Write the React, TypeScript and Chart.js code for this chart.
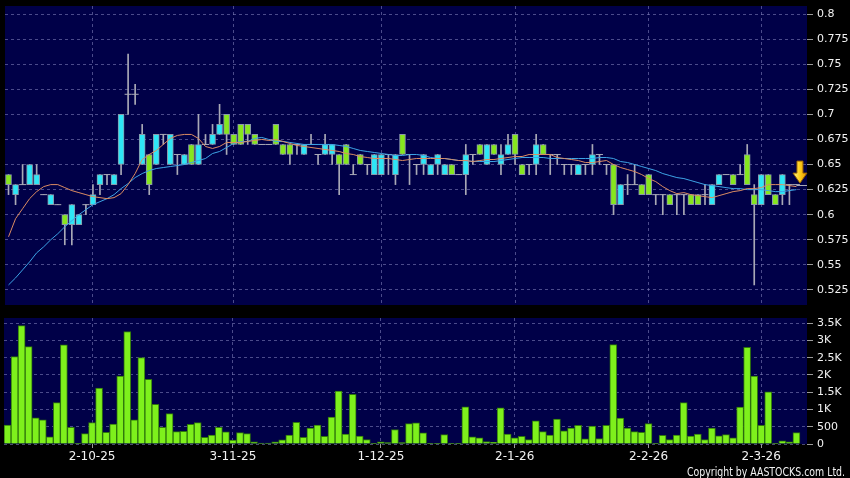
import React, { useEffect, useRef } from "react";
import { Chart, registerables } from "chart.js";

Chart.register(...registerables);

// ---------------- data ----------------
const openP = [
  0.64, 0.62, 0.63, 0.63, 0.63, 0.62, 0.61, 0.61, 0.60, 0.59,
  0.59, 0.61, 0.61, 0.63, 0.64, 0.63, 0.65, 0.72, 0.72, 0.65,
  0.66, 0.65, 0.68, 0.65, 0.66, 0.65, 0.67, 0.65, 0.67, 0.67,
  0.68, 0.70, 0.68, 0.69, 0.69, 0.68, 0.67, 0.67, 0.69, 0.67,
  0.67, 0.67, 0.66, 0.67, 0.66, 0.66, 0.66, 0.66, 0.67, 0.64,
  0.66, 0.65, 0.64, 0.64, 0.66, 0.64, 0.68, 0.66, 0.65, 0.65,
  0.64, 0.65, 0.64, 0.65, 0.64, 0.64, 0.66, 0.67, 0.65, 0.67,
  0.65, 0.66, 0.68, 0.65, 0.65, 0.65, 0.67, 0.66, 0.66, 0.65,
  0.65, 0.64, 0.65, 0.65, 0.66, 0.65, 0.65, 0.61, 0.63, 0.63,
  0.63, 0.64, 0.62, 0.62, 0.62, 0.62, 0.62, 0.62, 0.62, 0.62,
  0.61, 0.63, 0.64, 0.64, 0.64, 0.66, 0.62, 0.61, 0.64, 0.62,
  0.62, 0.63, 0.63,
];
const highP = [
  0.64, 0.63, 0.65, 0.65, 0.65, 0.62, 0.62, 0.61, 0.60, 0.61,
  0.60, 0.61, 0.63, 0.64, 0.64, 0.64, 0.70, 0.76, 0.73, 0.69,
  0.66, 0.68, 0.68, 0.68, 0.66, 0.66, 0.67, 0.70, 0.68, 0.69,
  0.71, 0.70, 0.68, 0.69, 0.69, 0.68, 0.67, 0.67, 0.69, 0.67,
  0.67, 0.67, 0.67, 0.68, 0.66, 0.68, 0.67, 0.66, 0.67, 0.65,
  0.66, 0.65, 0.66, 0.66, 0.66, 0.66, 0.68, 0.66, 0.65, 0.66,
  0.65, 0.66, 0.65, 0.65, 0.64, 0.67, 0.66, 0.67, 0.67, 0.67,
  0.67, 0.68, 0.68, 0.65, 0.65, 0.68, 0.67, 0.66, 0.66, 0.65,
  0.65, 0.65, 0.65, 0.67, 0.66, 0.65, 0.65, 0.63, 0.64, 0.65,
  0.63, 0.64, 0.62, 0.62, 0.62, 0.62, 0.62, 0.62, 0.62, 0.63,
  0.63, 0.64, 0.64, 0.64, 0.65, 0.67, 0.63, 0.64, 0.64, 0.62,
  0.64, 0.63, 0.63,
];
const lowP = [
  0.62, 0.61, 0.63, 0.63, 0.63, 0.62, 0.61, 0.61, 0.57, 0.57,
  0.59, 0.60, 0.61, 0.62, 0.63, 0.63, 0.64, 0.70, 0.71, 0.65,
  0.62, 0.65, 0.67, 0.65, 0.64, 0.65, 0.65, 0.65, 0.67, 0.67,
  0.68, 0.66, 0.67, 0.67, 0.67, 0.67, 0.67, 0.67, 0.67, 0.66,
  0.65, 0.66, 0.66, 0.67, 0.65, 0.66, 0.65, 0.62, 0.65, 0.64,
  0.65, 0.64, 0.64, 0.64, 0.64, 0.63, 0.66, 0.63, 0.64, 0.64,
  0.64, 0.64, 0.64, 0.64, 0.64, 0.62, 0.65, 0.66, 0.65, 0.66,
  0.64, 0.66, 0.65, 0.64, 0.64, 0.64, 0.66, 0.64, 0.65, 0.64,
  0.64, 0.64, 0.64, 0.64, 0.65, 0.64, 0.60, 0.61, 0.62, 0.63,
  0.62, 0.62, 0.61, 0.60, 0.61, 0.60, 0.60, 0.61, 0.61, 0.61,
  0.61, 0.63, 0.64, 0.63, 0.64, 0.63, 0.53, 0.61, 0.62, 0.61,
  0.61, 0.61, 0.63,
];
const closeP = [
  0.63, 0.63, 0.63, 0.65, 0.64, 0.62, 0.62, 0.61, 0.59, 0.61,
  0.60, 0.61, 0.62, 0.64, 0.64, 0.64, 0.70, 0.72, 0.72, 0.68,
  0.63, 0.68, 0.68, 0.68, 0.66, 0.66, 0.65, 0.67, 0.67, 0.68,
  0.69, 0.68, 0.67, 0.67, 0.68, 0.67, 0.67, 0.67, 0.67, 0.66,
  0.66, 0.67, 0.67, 0.67, 0.66, 0.67, 0.67, 0.65, 0.65, 0.64,
  0.65, 0.65, 0.66, 0.66, 0.66, 0.66, 0.66, 0.66, 0.65, 0.66,
  0.65, 0.66, 0.65, 0.64, 0.64, 0.66, 0.66, 0.66, 0.67, 0.66,
  0.66, 0.67, 0.66, 0.64, 0.65, 0.67, 0.66, 0.66, 0.66, 0.65,
  0.65, 0.65, 0.65, 0.66, 0.66, 0.65, 0.61, 0.63, 0.63, 0.63,
  0.62, 0.62, 0.62, 0.62, 0.61, 0.62, 0.62, 0.61, 0.61, 0.62,
  0.63, 0.64, 0.64, 0.63, 0.64, 0.63, 0.61, 0.64, 0.62, 0.61,
  0.64, 0.63, 0.63,
];
const ma10 = [
  0.578, 0.596, 0.606, 0.616, 0.623, 0.628, 0.630, 0.630, 0.627, 0.624,
  0.622, 0.620, 0.618, 0.617, 0.616, 0.617, 0.621, 0.630, 0.641, 0.655,
  0.660, 0.664, 0.670, 0.676, 0.679, 0.680, 0.680, 0.676, 0.668, 0.666,
  0.668, 0.672, 0.672, 0.672, 0.673, 0.674, 0.675, 0.674, 0.675, 0.673,
  0.671, 0.669, 0.668, 0.667, 0.666, 0.665, 0.664, 0.663, 0.661, 0.660,
  0.658, 0.657, 0.656, 0.656, 0.656, 0.655, 0.654, 0.655, 0.656, 0.656,
  0.656, 0.656, 0.656, 0.655, 0.654, 0.654, 0.653, 0.654, 0.655, 0.655,
  0.656, 0.657, 0.658, 0.658, 0.660, 0.660, 0.660, 0.660, 0.657, 0.656,
  0.655, 0.654, 0.652, 0.652, 0.653, 0.654, 0.650, 0.647, 0.645, 0.643,
  0.640, 0.636, 0.633, 0.628, 0.624, 0.621, 0.622, 0.620, 0.619, 0.618,
  0.617, 0.619, 0.621, 0.623, 0.624, 0.626, 0.626, 0.627, 0.630, 0.630,
  0.630, 0.629, 0.628,
];
const ma20 = [
  0.530, 0.537, 0.545, 0.553, 0.562, 0.568, 0.575, 0.581, 0.588, 0.594,
  0.600, 0.605, 0.610, 0.613, 0.616, 0.620, 0.626, 0.631, 0.637, 0.641,
  0.644, 0.646, 0.647, 0.648, 0.649, 0.650, 0.652, 0.654, 0.656, 0.661,
  0.663, 0.667, 0.671, 0.673, 0.673, 0.676, 0.677, 0.675, 0.673, 0.673,
  0.672, 0.671, 0.670, 0.670, 0.670, 0.670, 0.670, 0.669, 0.668, 0.666,
  0.664, 0.663, 0.662, 0.661, 0.660, 0.659, 0.659, 0.660, 0.660, 0.659,
  0.657, 0.656, 0.656, 0.655, 0.654, 0.654, 0.653, 0.653, 0.653, 0.653,
  0.654, 0.655, 0.656, 0.657, 0.657, 0.657, 0.657, 0.656, 0.656, 0.656,
  0.656, 0.656, 0.656, 0.656, 0.657, 0.657, 0.656, 0.653, 0.652, 0.650,
  0.648, 0.646, 0.644, 0.641, 0.639, 0.637, 0.636, 0.634, 0.632, 0.630,
  0.629, 0.628, 0.627, 0.626, 0.626, 0.625, 0.625, 0.625, 0.624, 0.623,
  0.623, 0.624, 0.625,
];
const volume = [
  550, 2530, 3430, 2820, 760, 700, 210, 1200, 2870, 480,
  20, 300, 620, 1620, 340, 580, 1970, 3260, 700, 2500,
  1870, 1150, 480, 880, 360, 370, 570, 620, 190, 260,
  480, 350, 110, 330, 300, 60, 30, 30, 60, 120,
  260, 630, 190, 460, 550, 220, 780, 1530, 290, 1440,
  230, 130, 20, 60, 40, 420, 40, 590, 610, 320,
  20, 20, 270, 20, 20, 1080, 210, 180, 70, 50,
  1050, 290, 180, 220, 130, 670, 360, 260, 720, 380,
  460, 540, 150, 520, 160, 540, 2880, 750, 460, 360,
  340, 590, 20, 250, 130, 260, 1200, 230, 290, 130,
  460, 240, 270, 180, 1070, 2800, 1970, 540, 1510, 20,
  90, 60, 330,
];
const priceTickValues = [0.525, 0.55, 0.575, 0.6, 0.625, 0.65, 0.675, 0.7, 0.725, 0.75, 0.775, 0.8];
const priceTickLabels = ["0.525", "0.55", "0.575", "0.6", "0.625", "0.65", "0.675", "0.7", "0.725", "0.75", "0.775", "0.8"];
const volTickValues = [0, 500, 1000, 1500, 2000, 2500, 3000, 3500];
const volTickLabels = ["0", "500", "1K", "1.5K", "2K", "2.5K", "3K", "3.5K"];
const dateTickIdx = [12, 32, 53, 72, 91, 107];
const dateTickLabels = ["2-10-25", "3-11-25", "1-12-25", "2-1-26", "2-2-26", "2-3-26"];

// ---------------- layout / style ----------------
const N_SLOTS = 114;
const X_MIN = -0.5;
const X_MAX = N_SLOTS - 0.5;
const PRICE_MIN = 0.51;
const PRICE_MAX = 0.808;
const VOL_MAX = 3650;

const NAVY = "#000048";
const GRID = "rgba(125,125,185,0.6)";
const CYAN = "#2ee6f6";
const GREEN = "#86e61e";
const EDGE = "#8a98aa";
const WICK = "#a9a9b6";
const ORANGE = "#dc8c62";
const BLUE = "#3da4e6";
const VOL_GREEN = "#7ef01c";
const VOL_EDGE = "#2f760c";
const TEXT = "#f2f2f2";
const FONT = "'DejaVu Sans', Verdana, sans-serif";

const bgPlugin = {
  id: "navyArea",
  beforeDraw(chart: any) {
    const { ctx, chartArea: a } = chart;
    ctx.save();
    ctx.fillStyle = NAVY;
    ctx.fillRect(a.left, a.top, a.right - a.left, a.bottom - a.top);
    ctx.restore();
  },
};

const arrowPlugin = {
  id: "lastArrow",
  afterDatasetsDraw(chart: any) {
    const { ctx, chartArea, scales } = chart;
    const xs = scales.x;
    const ys = scales.y;
    const last = closeP.length - 1;
    const y = ys.getPixelForValue(closeP[last]);
    const x0 = xs.getPixelForValue(last);
    ctx.save();
    ctx.strokeStyle = WICK;
    ctx.lineWidth = 1;
    ctx.beginPath();
    ctx.moveTo(x0, Math.round(y) + 0.5);
    ctx.lineTo(chartArea.right, Math.round(y) + 0.5);
    ctx.stroke();
    const cx = (xs.getPixelForValue(last) + xs.getPixelForValue(last + 1)) / 2;
    const tip = y - 1.5;
    const top = tip - 22;
    const neck = tip - 10;
    ctx.beginPath();
    ctx.moveTo(cx - 3, top);
    ctx.lineTo(cx + 3, top);
    ctx.lineTo(cx + 3, neck);
    ctx.lineTo(cx + 7, neck);
    ctx.lineTo(cx, tip);
    ctx.lineTo(cx - 7, neck);
    ctx.lineTo(cx - 3, neck);
    ctx.closePath();
    const g = ctx.createLinearGradient(cx - 7, 0, cx + 7, 0);
    g.addColorStop(0, "#fff59a");
    g.addColorStop(0.45, "#ffd21c");
    g.addColorStop(1, "#e39200");
    ctx.fillStyle = g;
    ctx.fill();
    ctx.strokeStyle = "#9a6400";
    ctx.lineWidth = 1;
    ctx.stroke();
    ctx.restore();
  },
};

const copyrightPlugin = {
  id: "copyright",
  afterDraw(chart: any) {
    const { ctx } = chart;
    ctx.save();
    ctx.font = "12px " + FONT;
    ctx.fillStyle = TEXT;
    ctx.textAlign = "left";
    ctx.textBaseline = "alphabetic";
    ctx.fillText("Copyright by AASTOCKS.com Ltd.", 687, 165.5, 158);
    ctx.restore();
  },
};

function zeroPad(scale: any) {
  scale.paddingTop = 0;
  scale.paddingBottom = 0;
  scale.paddingLeft = 0;
  scale.paddingRight = 0;
}

function xScale(showLabels: boolean) {
  return {
    type: "linear" as const,
    min: X_MIN,
    max: X_MAX,
    offset: false,
    position: "bottom" as const,
    afterBuildTicks: (s: any) => {
      s.ticks = dateTickIdx.map((v) => ({ value: v }));
    },
    afterFit: (s: any) => {
      s.height = showLabels ? 34 : 0;
      zeroPad(s);
    },
    grid: {
      color: GRID,
      offset: false,
      drawTicks: showLabels,
      tickLength: 4,
      tickColor: "#9a9a9a",
    },
    border: { display: false, dash: [3, 3] },
    ticks: {
      display: showLabels,
      autoSkip: false,
      maxRotation: 0,
      minRotation: 0,
      padding: 2,
      color: TEXT,
      font: { family: FONT, size: 12 },
      callback: (_v: any, i: number) => dateTickLabels[i],
    },
  };
}

function yScale(min: number, max: number, values: number[], labels: string[]) {
  return {
    type: "linear" as const,
    position: "right" as const,
    min,
    max,
    afterBuildTicks: (s: any) => {
      s.ticks = values.map((v) => ({ value: v }));
    },
    afterFit: (s: any) => {
      s.width = 43;
      zeroPad(s);
    },
    grid: { color: GRID, drawTicks: true, tickLength: 6, tickColor: "#9a9a9a" },
    border: { display: false, dash: [3, 3] },
    ticks: {
      autoSkip: false,
      padding: 4,
      color: TEXT,
      font: { family: FONT, size: 11 },
      callback: (_v: any, i: number) => labels[i],
    },
  };
}

function App() {
  const priceRef = useRef<HTMLCanvasElement>(null);
  const volRef = useRef<HTMLCanvasElement>(null);

  useEffect(() => {
    const idx = openP.map((_, i) => i);
    const isDoji = (i: number) => openP[i] === closeP[i];
    const bodyIdx = idx.filter((i) => !isDoji(i));
    const dojiIdx = idx.filter(isDoji);

    const priceChart = new Chart(priceRef.current as HTMLCanvasElement, {
      type: "bar",
      data: {
        datasets: [
          {
            type: "line",
            label: "MA10",
            data: idx.map((i) => ({ x: i, y: ma10[i] })),
            borderColor: ORANGE,
            borderWidth: 1,
            pointRadius: 0,
            tension: 0,
            order: 1,
          } as any,
          {
            type: "line",
            label: "MA20",
            data: idx.map((i) => ({ x: i, y: ma20[i] })),
            borderColor: BLUE,
            borderWidth: 1,
            pointRadius: 0,
            tension: 0,
            order: 1,
          } as any,
          {
            type: "scatter",
            label: "doji",
            data: dojiIdx.map((i) => ({ x: i, y: openP[i] })),
            pointStyle: "line",
            pointRadius: 3.5,
            pointBorderWidth: 1,
            borderColor: WICK,
            backgroundColor: WICK,
            order: 2,
          } as any,
          {
            type: "bar",
            label: "body",
            data: bodyIdx.map((i) => ({ x: i, y: [openP[i], closeP[i]] })),
            backgroundColor: bodyIdx.map((i) => (closeP[i] > openP[i] ? CYAN : GREEN)),
            borderColor: EDGE,
            borderWidth: 1,
            borderSkipped: false,
            barThickness: 6,
            grouped: false,
            order: 3,
          } as any,
          {
            type: "bar",
            label: "wick",
            data: idx.map((i) => ({ x: i, y: [lowP[i], highP[i]] })),
            backgroundColor: WICK,
            borderWidth: 0,
            barThickness: 1,
            grouped: false,
            order: 4,
          } as any,
        ],
      },
      options: {
        responsive: false,
        animation: false,
        devicePixelRatio: 1,
        events: [],
        layout: { padding: { left: 4, top: 6, right: 0, bottom: 5 } },
        plugins: { legend: { display: false }, tooltip: { enabled: false } },
        scales: {
          x: xScale(false) as any,
          y: yScale(PRICE_MIN, PRICE_MAX, priceTickValues, priceTickLabels) as any,
        },
      },
      plugins: [bgPlugin, arrowPlugin],
    });

    const volChart = new Chart(volRef.current as HTMLCanvasElement, {
      type: "bar",
      data: {
        datasets: [
          {
            label: "Volume",
            data: idx.map((i) => ({ x: i, y: volume[i] })) as any,
            backgroundColor: VOL_GREEN,
            borderColor: VOL_EDGE,
            borderWidth: 1,
            barThickness: 7,
            grouped: false,
          } as any,
        ],
      },
      options: {
        responsive: false,
        animation: false,
        devicePixelRatio: 1,
        events: [],
        layout: { padding: { left: 4, top: 8, right: 0, bottom: 0 } },
        plugins: { legend: { display: false }, tooltip: { enabled: false } },
        scales: {
          x: xScale(true) as any,
          y: yScale(0, VOL_MAX, volTickValues, volTickLabels) as any,
        },
      },
      plugins: [bgPlugin, copyrightPlugin],
    });

    return () => {
      priceChart.destroy();
      volChart.destroy();
    };
  }, []);

  return (
    <div
      style={{
        position: "fixed",
        left: 0,
        top: 0,
        width: 850,
        height: 478,
        background: "#000",
        overflow: "hidden",
      }}
    >
      <canvas
        ref={priceRef}
        width={850}
        height={310}
        style={{ position: "absolute", left: 0, top: 0, width: 850, height: 310, display: "block" }}
      />
      <canvas
        ref={volRef}
        width={850}
        height={168}
        style={{ position: "absolute", left: 0, top: 310, width: 850, height: 168, display: "block" }}
      />
    </div>
  );
}

export default App;
